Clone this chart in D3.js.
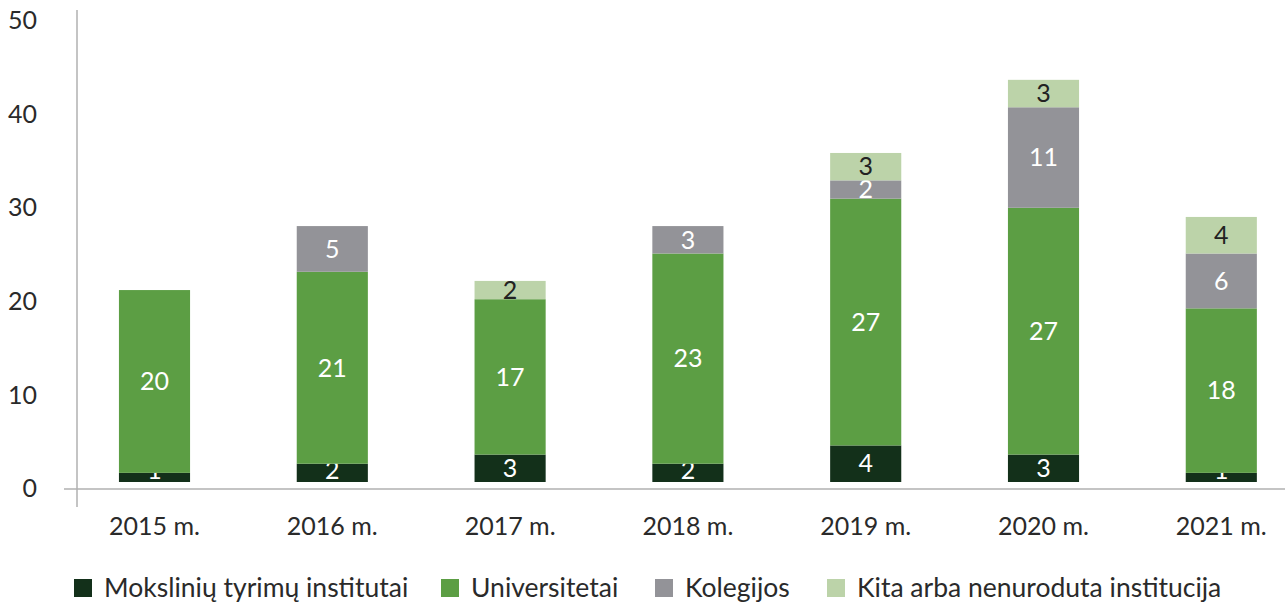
<!DOCTYPE html>
<html><head><meta charset="utf-8">
<script src="https://cdn.jsdelivr.net/npm/d3@7"></script>
<style>body{margin:0;background:#fff;} text{font-family:Lato,"Open Sans",sans-serif;font-weight:400;}</style>
</head><body>
<svg id="c" width="1285" height="603"></svg>
<script>
const categories = ["2015 m.","2016 m.","2017 m.","2018 m.","2019 m.","2020 m.","2021 m."];
const seriesNames = ["Mokslinių tyrimų institutai","Universitetai","Kolegijos","Kita arba nenuroduta institucija"];
const institutai = [1,2,3,2,4,3,1];
const universitetai = [20,21,17,23,27,27,18];
const kolegijos = [0,5,0,3,2,11,6];
const kita = [0,0,2,0,3,3,4];
const yTicks = [0,10,20,30,40,50];
const colors = ["#13301a","#5c9e44","#939398","#bcd3a9"];
const labelColors = ["#ffffff","#ffffff","#ffffff","#222222"];

const svg = d3.select("#c");
const x = d3.scaleBand().domain(categories).range([65.6, 1310.2]).paddingInner(0.6).paddingOuter(0.3);
const yBar = d3.scaleLinear().domain([0,50]).range([482, 25]);
const yAxisScale = d3.scaleLinear().domain([0,50]).range([488, 20]);

svg.append("line").attr("x1",77).attr("x2",77).attr("y1",10).attr("y2",507).attr("stroke","#b0b0b0").attr("stroke-width",1.5);
svg.append("line").attr("x1",64).attr("x2",1285).attr("y1",489).attr("y2",489).attr("stroke","#b0b0b0").attr("stroke-width",1.5);

const yAxis = d3.axisLeft(yAxisScale).tickValues(yTicks).tickSize(0).tickPadding(0);
const gy = svg.append("g").attr("transform","translate(37,0)").call(yAxis);
gy.select(".domain").remove();
gy.selectAll("text").attr("font-size",25).attr("fill","#2a2a2a").attr("dy","0.35em").attr("font-family","Lato, sans-serif");

const xAxis = d3.axisBottom(x).tickSize(0).tickPadding(0);
const gx = svg.append("g").attr("transform","translate(0,517)").call(xAxis);
gx.select(".domain").remove();
gx.selectAll("text").attr("font-size",25).attr("fill","#2a2a2a").attr("dy","0.71em").attr("font-family","Lato, sans-serif");

const data = categories.map((c,i)=>({cat:c, s0:institutai[i], s1:universitetai[i], s2:kolegijos[i], s3:kita[i]}));
const stack = d3.stack().keys(["s0","s1","s2","s3"]);
const layers = stack(data);

layers.forEach((layer, li) => {
  const g = svg.append("g");
  layer.forEach(d => {
    const v = d[1]-d[0];
    if (v <= 0) return;
    g.append("rect")
      .attr("x", x(d.data.cat))
      .attr("width", x.bandwidth())
      .attr("y", yBar(d[1]))
      .attr("height", yBar(d[0]) - yBar(d[1]))
      .attr("fill", colors[li]);
  });
  layer.forEach(d => {
    const v = d[1]-d[0];
    if (v <= 0) return;
    let cy = (yBar(d[0]) + yBar(d[1]))/2;
    g.append("text")
      .attr("x", x(d.data.cat) + x.bandwidth()/2)
      .attr("y", li===0 ? Math.min(cy, yBar(d[0]) - 12) : cy)
      .attr("text-anchor","middle")
      .attr("dy","0.35em")
      .attr("font-size",25)
      .attr("fill", labelColors[li])
      .text(v);
  });
});

const legendX = [74, 441, 655, 827];
const lg = svg.append("g");
seriesNames.forEach((n,i)=>{
  lg.append("rect").attr("x",legendX[i]).attr("y",579).attr("width",18).attr("height",18).attr("fill",colors[i]);
  lg.append("text").attr("x",legendX[i]+30).attr("y",588).attr("dy","0.35em").attr("font-size",26.5).attr("fill","#2a2a2a").text(n);
});
</script>
</body></html>
